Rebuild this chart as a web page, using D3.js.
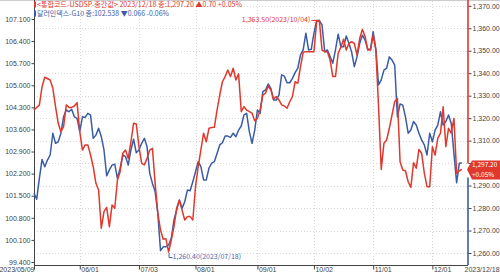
<!DOCTYPE html>
<html>
<head>
<meta charset="utf-8">
<script src="https://cdn.jsdelivr.net/npm/d3@7"></script>
<style>
  body { margin: 0; background: #fff; }
  svg { display: block; font-family: "Noto Sans CJK KR", "Noto Sans", sans-serif; }
</style>
</head>
<body>
<div id="chart"></div>
<script>
// trading-day index (0 = 2023/05/09 ... 159 = 2023/12/18)
const tickDays = [0, 17, 39, 60, 83, 104, 126, 148, 159];
const tickLabels = ["2023/05/09", "06/01", "07/03", "08/01", "09/01", "10/02", "11/01", "12/01", "2023/12/18"];

const leftTicks = [99.4, 100.1, 100.8, 101.5, 102.2, 102.9, 103.6, 104.3, 105.0, 105.7, 106.4, 107.1];
const rightTicks = [1260, 1270, 1280, 1290, 1300, 1310, 1320, 1330, 1340, 1350, 1360, 1370];

// USD/KRW close (right axis)
const usdkrw = [[0,1323.6],[2,1325.9],[3,1334.0],[4,1338.2],[6,1337.0],[7,1333.3],[8,1325.1],[9,1317.7],[10,1314.0],[11,1316.2],[12,1325.9],[13,1324.8],[14,1324.8],[15,1325.4],[16,1326.9],[17,1314.0],[18,1305.8],[19,1308.1],[20,1308.1],[21,1303.6],[22,1298.4],[23,1291.0],[24,1288.0],[25,1271.0],[26,1278.4],[27,1280.3],[28,1271.7],[29,1281.4],[30,1279.9],[31,1292.5],[32,1296.2],[33,1304.4],[34,1305.8],[35,1302.1],[36,1309.5],[37,1317.7],[38,1317.4],[39,1307.3],[40,1299.9],[41,1299.2],[42,1302.1],[43,1305.8],[44,1306.6],[45,1291.0],[46,1277.7],[47,1270.2],[48,1266.1],[49,1266.4],[50,1260.4],[51,1265.8],[52,1271.7],[53,1279.9],[54,1283.6],[55,1279.1],[56,1274.7],[57,1276.2],[58,1276.2],[59,1274.7],[60,1289.5],[61,1298.4],[63,1313.3],[64,1309.5],[65,1315.5],[66,1315.8],[67,1315.9],[68,1323.6],[69,1330.3],[70,1336.2],[71,1338.5],[72,1341.4],[73,1338.5],[74,1342.2],[75,1337.0],[76,1339.7],[77,1322.9],[78,1325.1],[79,1323.6],[80,1322.9],[81,1322.2],[82,1318.9],[83,1319.9],[84,1323.6],[85,1330.3],[86,1331.1],[87,1334.3],[88,1332.5],[89,1328.4],[90,1329.6],[91,1328.1],[92,1325.9],[93,1325.4],[94,1324.4],[95,1327.3],[96,1329.6],[97,1336.2],[98,1335.5],[99,1342.9],[100,1349.3],[101,1349.6],[102,1349.6],[103,1349.6],[104,1349.6],[105,1362.9],[106,1363.5],[107,1350.3],[108,1349.6],[109,1349.6],[110,1345.9],[111,1338.5],[112,1338.5],[113,1348.9],[114,1351.6],[115,1355.1],[116,1350.3],[117,1353.3],[118,1354.0],[119,1353.3],[120,1348.1],[121,1355.5],[122,1359.5],[123,1356.3],[124,1350.3],[125,1350.3],[126,1357.0],[127,1350.3],[128,1325.1],[129,1297.2],[130,1308.8],[131,1310.3],[132,1315.5],[133,1321.4],[134,1327.3],[135,1328.8],[136,1300.6],[137,1296.9],[138,1296.6],[139,1291.7],[140,1289.2],[141,1300.2],[142,1297.7],[143,1306.1],[144,1304.4],[145,1295.5],[146,1289.5],[147,1289.5],[148,1307.3],[149,1303.6],[150,1311.0],[151,1313.3],[152,1325.1],[153,1307.3],[154,1315.5],[155,1313.3],[156,1319.9],[157,1295.5],[158,1296.6],[159,1297.2]];

// Dollar index G10 close (left axis)
const dollarIdx = [[0,101.58],[1,101.39],[2,102.05],[3,102.65],[4,102.42],[5,102.63],[6,102.79],[7,103.48],[8,103.16],[9,103.21],[10,103.48],[11,104.00],[12,104.22],[13,104.16],[14,104.24],[15,104.00],[16,103.95],[17,103.53],[18,104.00],[19,103.98],[20,104.11],[21,104.06],[22,103.32],[23,103.42],[24,103.64],[25,103.37],[26,102.95],[27,102.13],[28,102.32],[29,102.47],[30,102.50],[31,102.05],[32,102.37],[33,102.79],[34,102.74],[35,102.47],[36,102.95],[37,103.29],[38,102.86],[39,102.95],[40,103.16],[41,103.32],[42,103.05],[43,102.21],[44,101.89],[45,101.63],[46,100.94],[47,99.76],[48,99.88],[49,99.88],[50,99.94],[51,100.15],[52,100.73],[53,101.05],[54,101.36],[55,101.10],[56,101.31],[57,101.68],[58,101.66],[59,101.94],[60,102.26],[61,102.58],[62,102.42],[63,102.00],[64,102.00],[65,102.37],[66,102.53],[67,102.58],[68,102.84],[69,103.11],[70,103.18],[71,103.39],[72,103.39],[73,103.35],[74,103.48],[75,103.37],[76,103.58],[77,103.71],[78,104.06],[79,104.11],[80,103.53],[81,103.16],[82,103.58],[83,104.22],[84,104.11],[85,104.80],[86,104.85],[87,105.04],[88,104.90],[89,104.53],[90,104.53],[91,104.69],[92,105.33],[93,105.29],[94,105.08],[95,105.08],[96,105.22],[97,105.40],[98,105.54],[99,105.96],[100,106.12],[101,106.65],[102,106.12],[103,106.14],[104,106.65],[105,107.05],[106,107.05],[107,106.91],[108,106.06],[109,106.12],[110,105.91],[111,105.70],[112,106.12],[113,106.62],[114,106.22],[115,106.22],[116,106.56],[117,106.33],[118,106.05],[119,105.59],[120,105.90],[121,106.33],[122,106.59],[123,106.43],[124,106.14],[125,106.14],[126,106.70],[127,106.14],[128,105.01],[129,105.17],[130,105.48],[131,105.54],[132,105.90],[133,105.80],[134,105.64],[135,104.00],[136,104.41],[137,104.37],[138,104.00],[139,103.48],[140,103.58],[141,103.85],[142,103.74],[143,103.48],[144,103.27],[145,103.11],[146,102.79],[147,103.48],[148,103.21],[149,103.58],[150,103.74],[151,104.16],[152,103.74],[153,103.85],[154,104.06],[155,103.79],[156,102.84],[157,101.91],[158,102.53],[159,102.54]];

const legendRed = "<통합코드-USDSP-종간값> 2023/12/18 종:1,297.20  ▲0.70 +0.05%";
const legendBlue = "달러인덱스-G10 종:102.538  ▼0.066 -0.06%";
const maxNote = { day: 106, value: 1363.5, text: "1,363.50(2023/10/04)" };
const minNote = { day: 50, value: 1260.4, text: "1,260.40(2023/07/18)" };
const lastKrw = { value: 1297.2, text: "1,297.20", change: "+0.05%" };

const width = 500, height = 276;
const left = 34, right = 468, bottom = 265, dataRight = 462;
const red = "#e0382c", blue = "#3a5ca6", axisColor = "#444", gridColor = "#d8d8d8";

const svg = d3.select("#chart").append("svg")
    .attr("width", width)
    .attr("height", height);

const x = d3.scaleLinear().domain([0, 159]).range([left, dataRight]);
const yLeft = d3.scaleLinear().domain([99.4, 107.1]).range([262, 19]);
const yRight = d3.scaleLinear().domain([1260, 1370]).range([253, 5.8]);

// grid
svg.append("g")
    .selectAll("line")
    .data(rightTicks)
    .enter().append("line")
    .attr("x1", left).attr("x2", right)
    .attr("y1", d => Math.round(yRight(d)) + 0.5)
    .attr("y2", d => Math.round(yRight(d)) + 0.5)
    .attr("stroke", gridColor)
    .attr("stroke-dasharray", "1,2");
svg.append("g")
    .selectAll("line")
    .data(tickDays.slice(1, -1))
    .enter().append("line")
    .attr("x1", d => Math.round(x(d)) + 0.5)
    .attr("x2", d => Math.round(x(d)) + 0.5)
    .attr("y1", 1).attr("y2", bottom)
    .attr("stroke", gridColor)
    .attr("stroke-dasharray", "1,2");

// top border
svg.append("line")
    .attr("x1", 0).attr("x2", width)
    .attr("y1", 0.5).attr("y2", 0.5)
    .attr("stroke", "#ccc");

// left axis
const leftAxis = d3.axisLeft(yLeft)
    .tickValues(leftTicks)
    .tickFormat(d3.format(".3f"))
    .tickSizeInner(3)
    .tickSizeOuter(0)
    .tickPadding(1);
const gL = svg.append("g")
    .attr("transform", "translate(" + (left + 0.5) + ",0)")
    .call(leftAxis);
gL.select(".domain").attr("d", "M0,0V" + bottom).attr("stroke", axisColor);
gL.selectAll(".tick line").attr("stroke", axisColor);
gL.selectAll("text").attr("fill", axisColor).attr("font-size", 7);

// bottom axis
const xAxis = d3.axisBottom(x)
    .tickValues(tickDays)
    .tickFormat((d, i) => tickLabels[i])
    .tickSizeInner(4)
    .tickSizeOuter(0);
const gX = svg.append("g")
    .attr("transform", "translate(0," + (bottom + 0.5) + ")")
    .call(xAxis);
gX.select(".domain").attr("d", "M" + left + ",0H" + right).attr("stroke", axisColor);
gX.selectAll(".tick line").attr("stroke", axisColor);
gX.selectAll("text")
    .attr("fill", axisColor)
    .attr("font-size", 7)
    .attr("y", 1.5)
    .attr("dy", "0.75em")
    .attr("text-anchor", (d, i) => i === 0 ? "end" : "start")
    .attr("x", (d, i) => i === 0 ? 0 : (i === tickDays.length - 1 ? 2 : 1));
gX.selectAll(".tick").filter((d, i) => i === tickDays.length - 1).select("line").remove();

// right axis
const lastY = yRight(lastKrw.value);
const rightAxis = d3.axisRight(yRight)
    .tickValues(rightTicks)
    .tickFormat(d3.format(",.2f"))
    .tickSizeInner(3)
    .tickSizeOuter(0)
    .tickPadding(1);
const gR = svg.append("g")
    .attr("transform", "translate(" + (right + 0.5) + ",0)")
    .call(rightAxis);
gR.select(".domain").remove();
gR.selectAll(".tick line").attr("stroke", axisColor);
gR.selectAll("text").attr("fill", axisColor).attr("font-size", 7);
// the label under the last-value badge is hidden
gR.selectAll(".tick").filter(d => Math.abs(yRight(d) - lastY) < 10).select("text").remove();

// lines
const line = (yScale) => d3.line()
    .x(d => x(d[0]))
    .y(d => yScale(d[1]));

svg.append("path")
    .datum(dollarIdx)
    .attr("fill", "none")
    .attr("stroke", blue)
    .attr("stroke-width", 1.5)
    .attr("stroke-linejoin", "round")
    .attr("d", line(yLeft));

svg.append("path")
    .datum(usdkrw)
    .attr("fill", "none")
    .attr("stroke", red)
    .attr("stroke-width", 1.5)
    .attr("stroke-linejoin", "round")
    .attr("d", line(yRight));

// right edge bars
svg.append("line")
    .attr("x1", right).attr("x2", right)
    .attr("y1", 0).attr("y2", lastY - 6)
    .attr("stroke", red).attr("stroke-width", 1.6);
svg.append("line")
    .attr("x1", right).attr("x2", right)
    .attr("y1", lastY + 8).attr("y2", bottom)
    .attr("stroke", blue).attr("stroke-width", 1.6);

// last value badge
const badge = svg.append("g");
badge.append("path")
    .attr("d", "M" + (right - 1) + "," + lastY +
        "L" + (right + 4) + "," + (lastY - 9) +
        "H" + width + "V" + (lastY + 10) +
        "H" + (right + 4) + "Z")
    .attr("fill", red);
badge.append("text")
    .attr("x", right + 4).attr("y", lastY - 4)
    .attr("font-size", 6.5).attr("fill", "#fff")
    .attr("dominant-baseline", "middle")
    .text(lastKrw.text);
badge.append("text")
    .attr("x", right + 4).attr("y", lastY + 5.5)
    .attr("font-size", 6.5).attr("fill", "#fff")
    .attr("dominant-baseline", "middle")
    .text(lastKrw.change);

// max annotation
const mx = x(maxNote.day), my = yRight(maxNote.value);
svg.append("line")
    .attr("x1", mx - 8).attr("x2", mx - 1)
    .attr("y1", my).attr("y2", my)
    .attr("stroke", red);
svg.append("text")
    .attr("x", mx - 9).attr("y", my)
    .attr("text-anchor", "end")
    .attr("dominant-baseline", "middle")
    .attr("font-size", 7).attr("fill", red)
    .text(maxNote.text);

// min annotation
const nx = x(minNote.day), ny = yRight(minNote.value);
svg.append("path")
    .attr("d", "M" + (nx + 0.5) + "," + (ny + 1) + "V" + (ny + 5.5) + "H" + (nx + 4))
    .attr("fill", "none")
    .attr("stroke", blue);
svg.append("text")
    .attr("x", nx + 4).attr("y", ny + 5)
    .attr("dominant-baseline", "middle")
    .attr("font-size", 7).attr("fill", "#4a6bb0")
    .text(minNote.text);

// legend
svg.append("rect").attr("x", 34).attr("y", 1.5).attr("width", 2).attr("height", 6).attr("fill", red);
svg.append("text")
    .attr("x", 37).attr("y", 4.8)
    .attr("dominant-baseline", "middle")
    .attr("font-size", 7).attr("fill", red)
    .attr("textLength", 205)
    .attr("lengthAdjust", "spacingAndGlyphs")
    .text(legendRed);
svg.append("rect").attr("x", 34).attr("y", 10.5).attr("width", 2).attr("height", 6).attr("fill", blue);
svg.append("text")
    .attr("x", 37).attr("y", 13.8)
    .attr("dominant-baseline", "middle")
    .attr("font-size", 7).attr("fill", blue)
    .attr("textLength", 132)
    .attr("lengthAdjust", "spacingAndGlyphs")
    .text(legendBlue);
</script>
</body>
</html>
